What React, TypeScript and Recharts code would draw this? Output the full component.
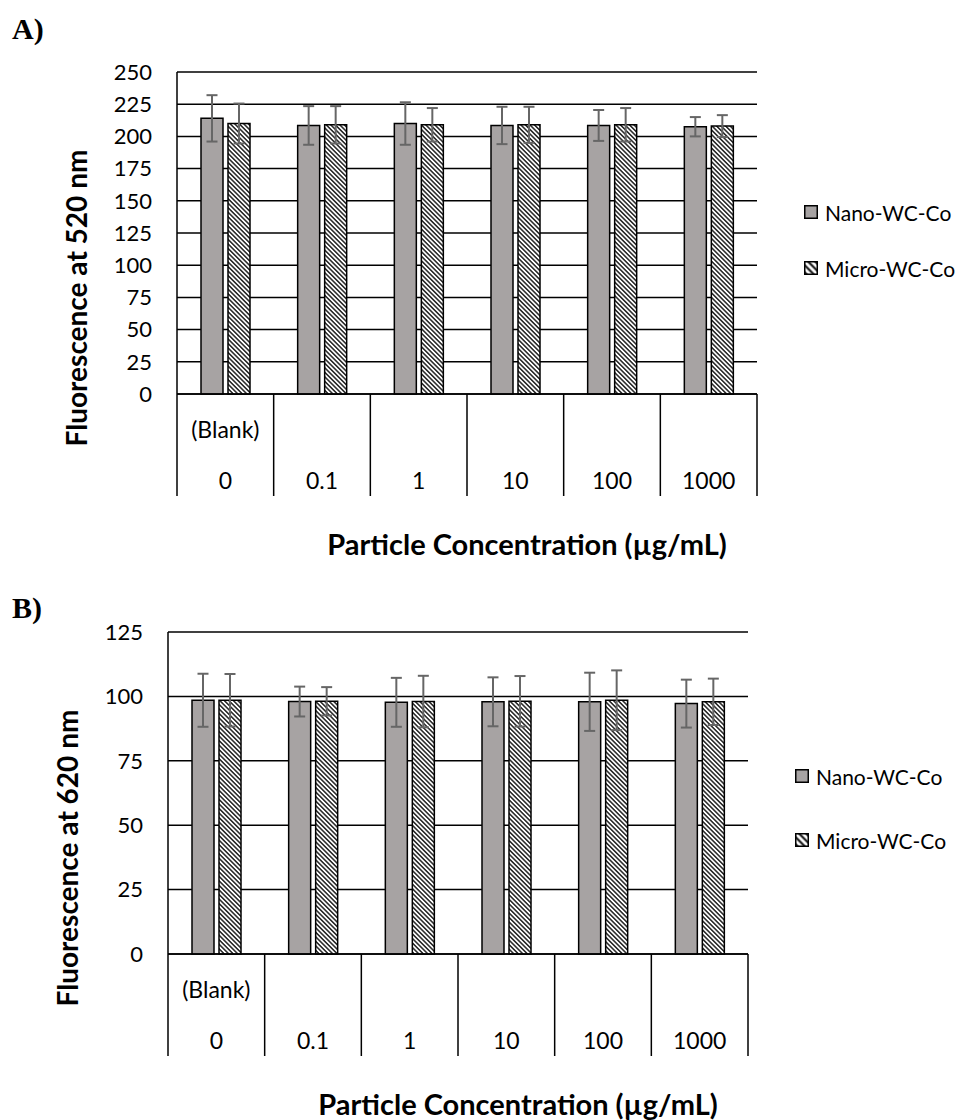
import React from "react";
import {
  BarChart,
  Bar,
  XAxis,
  YAxis,
  CartesianGrid,
  ErrorBar,
  Legend,
  Label,
} from "recharts";

// concentrations (µg/mL); first one is the blank
const categories = ["0", "0.1", "1", "10", "100", "1000"];
const subLabels = ["(Blank)", "", "", "", "", ""];
const seriesNames = ["Nano-WC-Co", "Micro-WC-Co"];

// A) fluorescence at 520 nm
const nanoA = [214, 208.5, 210, 208.5, 208.5, 207.5];
const nanoAErr = [18, 15, 16.5, 14.5, 12, 7.5];
const microA = [210, 209, 209, 209, 209, 208];
const microAErr = [15.5, 14.5, 13, 14, 13, 8.5];
const ticksA = [0, 25, 50, 75, 100, 125, 150, 175, 200, 225, 250];

// B) fluorescence at 620 nm
const nanoB = [98.5, 98, 97.7, 97.9, 97.9, 97.2];
const nanoBErr = [10.3, 5.8, 9.5, 9.5, 11.3, 9.3];
const microB = [98.5, 98.1, 98, 98.1, 98.5, 97.9];
const microBErr = [10.2, 5.5, 10, 9.8, 11.6, 9];
const ticksB = [0, 25, 50, 75, 100, 125];

const FONT = "Lato, 'Noto Sans', sans-serif";
const NANO_FILL = "#a7a3a3";
const ERR_COLOR = "#666666";
const W = 959;
const H = 580;
const PLOT_TOP = 72;
const PLOT_BOTTOM = 394;
const PLOT_W = 580;
const Y_AXIS_W = 60;

type Row = {
  conc: string;
  sub: string;
  nano: number;
  nanoErr: number;
  micro: number;
  microErr: number;
};

function makeRows(nano: number[], nanoErr: number[], micro: number[], microErr: number[]): Row[] {
  return categories.map((c, i) => ({
    conc: c,
    sub: subLabels[i],
    nano: nano[i],
    nanoErr: nanoErr[i],
    micro: micro[i],
    microErr: microErr[i],
  }));
}

function TableTick(props: any) {
  const { x, y, payload, index, band } = props;
  const i = payload?.index ?? index;
  const left = x - band / 2;
  const right = x + band / 2;
  return (
    <g>
      <line x1={left} y1={y} x2={left} y2={y + 102} stroke="#000" strokeWidth={1.5} />
      {i === categories.length - 1 && (
        <line x1={right} y1={y} x2={right} y2={y + 102} stroke="#000" strokeWidth={1.5} />
      )}
      {subLabels[i] && (
        <text x={x} y={y + 35} textAnchor="middle" dominantBaseline="central" fontSize={23} fontFamily={FONT} fill="#000">
          {subLabels[i]}
        </text>
      )}
      <text x={x} y={y + 86} textAnchor="middle" dominantBaseline="central" fontSize={23} fontFamily={FONT} fill="#000">
        {payload.value}
      </text>
    </g>
  );
}

function LegendBox({ gap }: { gap: number }) {
  const fills = [NANO_FILL, "url(#hatchLegend)"];
  return (
    <div style={{ fontFamily: FONT, fontSize: 21, color: "#000" }}>
      {seriesNames.map((name, i) => (
        <div
          key={name}
          style={{
            display: "flex",
            alignItems: "center",
            height: 28,
            marginTop: i === 0 ? 0 : gap - 28,
            whiteSpace: "nowrap",
          }}
        >
          <svg width={14} height={14} style={{ display: "block" }}>
            <rect x={0.75} y={0.75} width={12.5} height={12.5} fill={fills[i]} stroke="#000" strokeWidth={1.5} />
          </svg>
          <span style={{ marginLeft: 7 }}>{name}</span>
        </div>
      ))}
    </div>
  );
}

type PanelProps = {
  top: number;
  letter: string;
  letterY: number;
  plotLeft: number;
  data: Row[];
  ticks: number[];
  yTitle: string;
  legendLeft: number;
  legendTop: number;
  legendGap: number;
};

function Panel({ top, letter, letterY, plotLeft, data, ticks, yTitle, legendLeft, legendTop, legendGap }: PanelProps) {
  const band = PLOT_W / categories.length;
  return (
    <div style={{ position: "absolute", left: 0, top, width: W, height: H }}>
      <div
        style={{
          position: "absolute",
          left: 12,
          top: letterY - 17,
          height: 34,
          lineHeight: "34px",
          fontFamily: "'Liberation Serif', serif",
          fontWeight: "bold",
          fontSize: 30,
        }}
      >
        {letter}
      </div>
      <BarChart
        width={W}
        height={H}
        data={data}
        margin={{ top: PLOT_TOP, right: W - plotLeft - PLOT_W, bottom: H - PLOT_BOTTOM - 110, left: plotLeft - Y_AXIS_W }}
        barSize={22}
        barGap={5}
        style={{ overflow: "visible" }}
      >
        <CartesianGrid vertical={false} stroke="#000" strokeWidth={1.5} />
        <XAxis
          dataKey="conc"
          height={110}
          interval={0}
          tickLine={false}
          tickSize={0}
          tickMargin={0}
          axisLine={{ stroke: "#000", strokeWidth: 1.5 }}
          tick={<TableTick band={band} />}
          label={
            <Label
              content={() => (
                <text
                  x={plotLeft + 350}
                  y={PLOT_BOTTOM + 149}
                  textAnchor="middle"
                  dominantBaseline="central"
                  fontFamily={FONT}
                  fontWeight="bold"
                  fontSize={29}
                  fill="#000"
                >
                  Particle Concentration (µg/mL)
                </text>
              )}
            />
          }
        />
        <YAxis
          width={Y_AXIS_W}
          domain={[0, ticks[ticks.length - 1]]}
          ticks={ticks}
          interval={0}
          tickLine={false}
          tickSize={0}
          tickMargin={25}
          axisLine={{ stroke: "#000", strokeWidth: 1.5 }}
          tick={{ fill: "#000", fontSize: 22, fontFamily: FONT }}
          label={
            <Label
              content={() => {
                const cx = plotLeft - 101;
                const cy = PLOT_TOP + 226;
                return (
                  <text
                    x={cx}
                    y={cy}
                    transform={`rotate(-90, ${cx}, ${cy})`}
                    textAnchor="middle"
                    dominantBaseline="central"
                    fontFamily={FONT}
                    fontWeight="bold"
                    fontSize={28}
                    fill="#000"
                  >
                    {yTitle}
                  </text>
                );
              }}
            />
          }
        />
        <Bar dataKey="nano" name={seriesNames[0]} fill={NANO_FILL} stroke="#000" strokeWidth={1.5} isAnimationActive={false}>
          <ErrorBar dataKey="nanoErr" direction="y" width={5.5} stroke={ERR_COLOR} strokeWidth={2} isAnimationActive={false} />
        </Bar>
        <Bar dataKey="micro" name={seriesNames[1]} fill="url(#hatch)" stroke="#000" strokeWidth={1.5} isAnimationActive={false}>
          <ErrorBar dataKey="microErr" direction="y" width={5.5} stroke={ERR_COLOR} strokeWidth={2} isAnimationActive={false} />
        </Bar>
        <Legend
          layout="horizontal"
          align="center"
          verticalAlign="middle"
          wrapperStyle={{ left: legendLeft, top: legendTop, width: 160 }}
          content={() => <LegendBox gap={legendGap} />}
        />
      </BarChart>
    </div>
  );
}

export default function App() {
  const dataA = makeRows(nanoA, nanoAErr, microA, microAErr);
  const dataB = makeRows(nanoB, nanoBErr, microB, microBErr);
  return (
    <div
      style={{
        position: "absolute",
        left: 0,
        top: 0,
        width: W,
        height: 1120,
        overflow: "hidden",
        background: "#fff",
      }}
    >
      <svg width={0} height={0} style={{ position: "absolute" }}>
        <defs>
          <pattern id="hatch" patternUnits="userSpaceOnUse" width={3.2} height={3.2} patternTransform="rotate(-45)">
            <rect width={3.2} height={3.2} fill="#fff" />
            <line x1={1.6} y1={0} x2={1.6} y2={3.2} stroke="#000" strokeWidth={1.3} />
          </pattern>
          <pattern id="hatchLegend" patternUnits="userSpaceOnUse" width={5} height={5} patternTransform="rotate(-45)">
            <rect width={5} height={5} fill="#fff" />
            <line x1={2.5} y1={0} x2={2.5} y2={5} stroke="#000" strokeWidth={2} />
          </pattern>
        </defs>
      </svg>
      <Panel
        top={0}
        letter="A)"
        letterY={29}
        plotLeft={177}
        data={dataA}
        ticks={ticksA}
        yTitle="Fluorescence at 520 nm"
        legendLeft={804}
        legendTop={198}
        legendGap={56}
      />
      <Panel
        top={560}
        letter="B)"
        letterY={48}
        plotLeft={168}
        data={dataB}
        ticks={ticksB}
        yTitle="Fluorescence at 620 nm"
        legendLeft={795}
        legendTop={202}
        legendGap={64}
      />
    </div>
  );
}
